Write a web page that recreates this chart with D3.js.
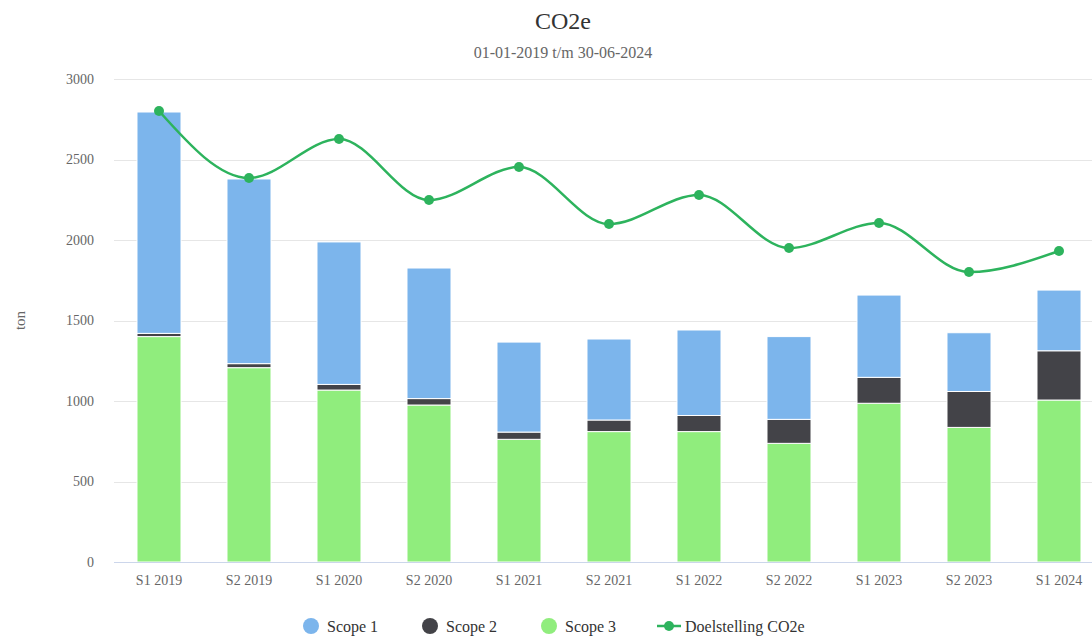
<!DOCTYPE html>
<html>
<head>
<meta charset="utf-8">
<script src="https://cdn.jsdelivr.net/npm/d3@7/dist/d3.min.js"></script>
<style>
  html, body { margin: 0; padding: 0; background: #fff; }
  svg { display: block; font-family: "Liberation Serif", "Times New Roman", serif; }
</style>
</head>
<body>
<svg id="chart" width="1092" height="637"></svg>
<script>
const categories = ["S1 2019","S2 2019","S1 2020","S2 2020","S1 2021","S2 2021","S1 2022","S2 2022","S1 2023","S2 2023","S1 2024"];
const scope1 = [1375, 1147, 885, 811, 559, 503, 531, 514, 511, 365, 377];
const scope2 = [20, 25, 35, 40, 45, 72, 100, 149, 161, 223, 306];
const scope3 = [1400, 1207, 1068, 975, 762, 810, 810, 737, 986, 836, 1006];
const target = [2801, 2385, 2627, 2248, 2453, 2099, 2280, 1950, 2106, 1801, 1932];
const yTicks = [0, 500, 1000, 1500, 2000, 2500, 3000];

const colors = { "Scope 1": "#7cb5ec", "Scope 2": "#434348", "Scope 3": "#90ed7d" };
const lineColor = "#2db35d";

const svg = d3.select("#chart");
const W = 1092, H = 637;
const centerX = 563;
const plot = { left: 114, right: 1104, top: 79, bottom: 562 };

const x = d3.scaleBand().domain(categories).range([plot.left, plot.right]).paddingInner(0.511).paddingOuter(0.2555);
const y = d3.scaleLinear().domain([0, 3000]).range([plot.bottom, plot.top]);

// Title
svg.append("text").attr("x", centerX).attr("y", 29).attr("text-anchor", "middle")
  .attr("font-size", 24).attr("fill", "#333").text("CO2e");
svg.append("text").attr("x", centerX).attr("y", 58).attr("text-anchor", "middle")
  .attr("font-size", 16).attr("fill", "#666").text("01-01-2019 t/m 30-06-2024");

// Grid
const grid = svg.append("g");
yTicks.forEach(t => {
  if (t === 0) return;
  grid.append("line").attr("x1", plot.left).attr("x2", W)
    .attr("y1", Math.round(y(t)) + 0.5).attr("y2", Math.round(y(t)) + 0.5)
    .attr("stroke", "#e6e6e6").attr("stroke-width", 1);
});

// Y axis labels
const yAxis = d3.axisLeft(y).tickValues(yTicks).tickFormat(d3.format("d")).tickSize(0).tickPadding(0);
const yg = svg.append("g").attr("transform", `translate(${plot.left - 20},0)`).call(yAxis);
yg.select(".domain").remove();
yg.selectAll("text").attr("font-size", 14).attr("fill", "#666")
  .attr("font-family", "Liberation Serif, Times New Roman, serif").attr("dy", "0.32em");

svg.append("text").attr("transform", `translate(25,${(plot.top + plot.bottom) / 2}) rotate(-90)`)
  .attr("text-anchor", "middle").attr("font-size", 15).attr("fill", "#666").text("ton");

// Stacked bars
const rows = categories.map((c, i) => ({ cat: c, "Scope 1": scope1[i], "Scope 2": scope2[i], "Scope 3": scope3[i] }));
const stacked = d3.stack().keys(["Scope 3", "Scope 2", "Scope 1"])(rows);
const barsG = svg.append("g");
stacked.forEach(layer => {
  barsG.selectAll(null).data(layer).enter().append("rect")
    .attr("x", d => x(d.data.cat))
    .attr("width", x.bandwidth())
    .attr("y", d => y(d[1]))
    .attr("height", d => Math.max(0, y(d[0]) - y(d[1])))
    .attr("fill", colors[layer.key])
    .attr("stroke", "#fff").attr("stroke-width", 1);
});

// X axis
svg.append("line").attr("x1", plot.left).attr("x2", W).attr("y1", plot.bottom + 0.5).attr("y2", plot.bottom + 0.5)
  .attr("stroke", "#ccd6eb").attr("stroke-width", 1);
const xAxis = d3.axisBottom(x).tickSize(0).tickPadding(0);
const xg = svg.append("g").attr("transform", `translate(0,${plot.bottom + 13})`).call(xAxis);
xg.select(".domain").remove();
xg.selectAll("text").attr("font-size", 14).attr("fill", "#666")
  .attr("font-family", "Liberation Serif, Times New Roman, serif").attr("dy", "0.71em");

// Target line
const cx = c => x(c) + x.bandwidth() / 2;
const line = d3.line().x((d, i) => cx(categories[i])).y(d => y(d)).curve(d3.curveMonotoneX);
svg.append("path").datum(target).attr("d", line).attr("fill", "none")
  .attr("stroke", lineColor).attr("stroke-width", 2.5);
svg.append("g").selectAll("circle").data(target).enter().append("circle")
  .attr("cx", (d, i) => cx(categories[i])).attr("cy", d => y(d)).attr("r", 5)
  .attr("fill", lineColor);

// Legend
const legend = svg.append("g").attr("font-size", 16);
const legY = 627;
const legItems = [
  { name: "Scope 1", type: "circle", x: 311 },
  { name: "Scope 2", type: "circle", x: 430 },
  { name: "Scope 3", type: "circle", x: 549 },
  { name: "Doelstelling CO2e", type: "line", x: 669 }
];
legItems.forEach(it => {
  if (it.type === "circle") {
    legend.append("circle").attr("cx", it.x).attr("cy", legY - 1).attr("r", 8).attr("fill", colors[it.name]);
  } else {
    legend.append("line").attr("x1", it.x - 12).attr("x2", it.x + 12).attr("y1", legY - 1).attr("y2", legY - 1)
      .attr("stroke", lineColor).attr("stroke-width", 2.5);
    legend.append("circle").attr("cx", it.x).attr("cy", legY - 1).attr("r", 5).attr("fill", lineColor);
  }
  legend.append("text").attr("x", it.x + 16).attr("y", legY + 5).attr("fill", "#333").text(it.name);
});
</script>
</body>
</html>
